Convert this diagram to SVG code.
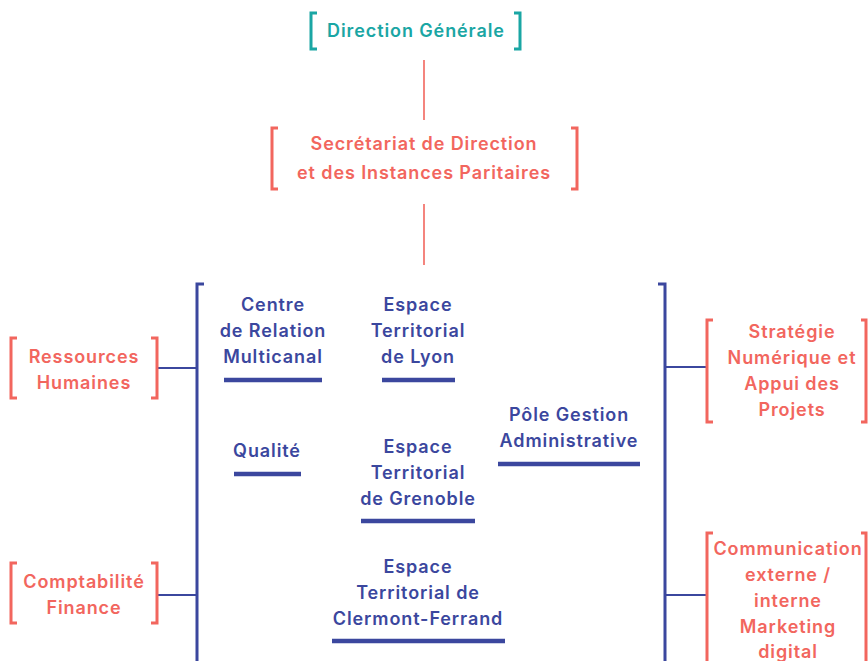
<svg xmlns="http://www.w3.org/2000/svg" width="868" height="661" viewBox="0 0 868 661">
<style>
text{font-family:Inter,"Liberation Sans",sans-serif;font-weight:600;font-size:18px;letter-spacing:0.9px;text-anchor:middle}
.t{fill:#1aa6a4}
.c{fill:#f2665e}
.n{fill:#3b479e}
.bt{fill:none;stroke:#1aa6a4;stroke-width:3}
.bc{fill:none;stroke:#f2665e;stroke-width:3}
.bn{fill:none;stroke:#3b479e;stroke-width:3}
.lc{stroke:#f2665e;stroke-width:1.6}
.ln{stroke:#3b479e;stroke-width:1.8}
.u{stroke:#3b479e;stroke-width:4.5}
</style>
<rect width="868" height="661" fill="#fff"/>
<g id="connectors">
<line class="lc" x1="424" y1="60" x2="424" y2="120"/>
<line class="lc" x1="424" y1="204" x2="424" y2="265"/>
<line class="ln" x1="157" y1="368" x2="197" y2="368"/>
<line class="ln" x1="157" y1="595" x2="197" y2="595"/>
<line class="ln" x1="665" y1="367" x2="707" y2="367"/>
<line class="ln" x1="665" y1="595" x2="707" y2="595"/>
</g>
<g id="direction-generale">
<path class="bt" d="M317,13 H311 V49 H317 M514,13 H520 V49 H514"/>
<text class="t" x="416" y="37">Direction Générale</text>
</g>
<g id="secretariat">
<path class="bc" d="M278,128 H272 V189 H278 M571,128 H577 V189 H571"/>
<text class="c" x="424" y="150">Secrétariat de Direction</text>
<text class="c" x="424" y="179">et des Instances Paritaires</text>
</g>
<g id="pole-bracket">
<path class="bn" d="M204,284 H197 V661 M658,284 H665 V661"/>
</g>
<g id="ressources-humaines">
<path class="bc" d="M17,338 H11 V398 H17 M151,338 H157 V398 H151"/>
<text class="c" x="84" y="363">Ressources</text>
<text class="c" x="84" y="389">Humaines</text>
</g>
<g id="comptabilite">
<path class="bc" d="M17,563 H11 V623 H17 M151,563 H157 V623 H151"/>
<text class="c" x="84" y="588">Comptabilité</text>
<text class="c" x="84" y="614">Finance</text>
</g>
<g id="strategie">
<path class="bc" d="M713,320 H707 V422 H713 M861,320 H866 V422 H861"/>
<text class="c" x="792" y="338">Stratégie</text>
<text class="c" x="792" y="364">Numérique et</text>
<text class="c" x="792" y="390">Appui des</text>
<text class="c" x="792" y="416">Projets</text>
</g>
<g id="communication">
<path class="bc" d="M713,533 H707 V661 M861,533 H866 V661"/>
<text class="c" x="788" y="555">Communication</text>
<text class="c" x="788" y="581">externe /</text>
<text class="c" x="788" y="607">interne</text>
<text class="c" x="788" y="633">Marketing</text>
<text class="c" x="788" y="658">digital</text>
</g>
<g id="centre-relation">
<text class="n" x="273" y="311">Centre</text>
<text class="n" x="273" y="337">de Relation</text>
<text class="n" x="273" y="363">Multicanal</text>
<line class="u" x1="224" y1="380" x2="322" y2="380"/>
</g>
<g id="espace-lyon">
<text class="n" x="418" y="311">Espace</text>
<text class="n" x="418" y="337">Territorial</text>
<text class="n" x="418" y="363">de Lyon</text>
<line class="u" x1="382" y1="380" x2="455" y2="380"/>
</g>
<g id="qualite">
<text class="n" x="267" y="457">Qualité</text>
<line class="u" x1="234" y1="474" x2="301" y2="474"/>
</g>
<g id="espace-grenoble">
<text class="n" x="418" y="453">Espace</text>
<text class="n" x="418" y="479">Territorial</text>
<text class="n" x="418" y="505">de Grenoble</text>
<line class="u" x1="361" y1="521" x2="475" y2="521"/>
</g>
<g id="pole-gestion">
<text class="n" x="569" y="421">Pôle Gestion</text>
<text class="n" x="569" y="447">Administrative</text>
<line class="u" x1="498" y1="464" x2="640" y2="464"/>
</g>
<g id="espace-clermont">
<text class="n" x="418" y="573">Espace</text>
<text class="n" x="418" y="599">Territorial de</text>
<text class="n" x="418" y="625">Clermont-Ferrand</text>
<line class="u" x1="332" y1="641" x2="505" y2="641"/>
</g>
</svg>
